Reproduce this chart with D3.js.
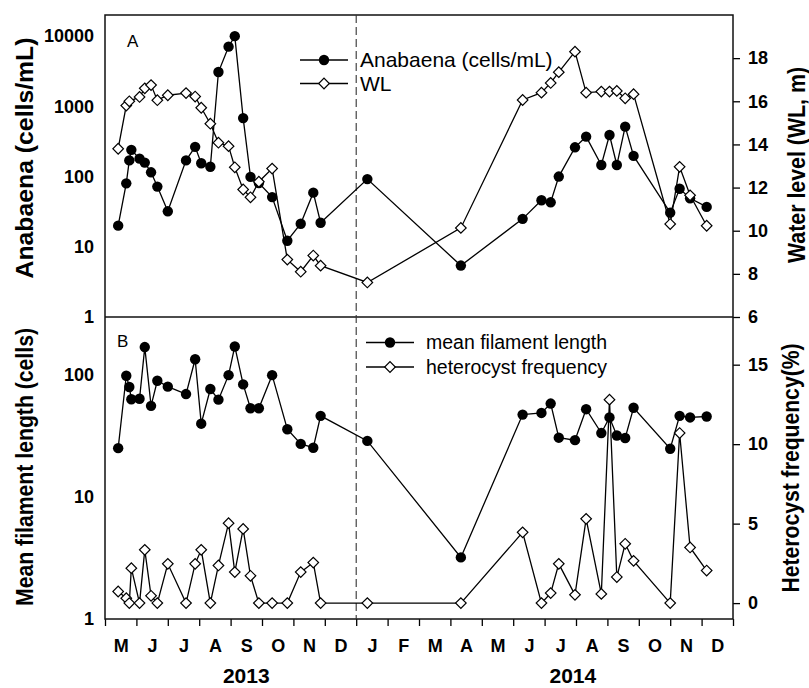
<!DOCTYPE html>
<html>
<head>
<meta charset="utf-8">
<script src="https://cdn.jsdelivr.net/npm/d3@7"></script>
<style>
    body { margin: 0; background: #fff; }
    svg { display: block; font-family: "Liberation Sans", Arial, sans-serif; }
    .tick text { font-weight: bold; font-size: 18px; fill: #000; }
</style>
</head>
<body>
<div id="chart-container"></div>
<script>

// sampling dates (shared by all four series)
const sampleDates = [
    '2013-05-14', '2013-05-22', '2013-05-25', '2013-05-27', '2013-06-04', '2013-06-09', '2013-06-15', '2013-06-21',
    '2013-07-01', '2013-07-19', '2013-07-28', '2013-08-03', '2013-08-12', '2013-08-20', '2013-08-30',
    '2013-09-05', '2013-09-13', '2013-09-20', '2013-09-28', '2013-10-11', '2013-10-26',
    '2013-11-08', '2013-11-20', '2013-11-27',
    '2014-01-12', '2014-04-11', '2014-06-10', '2014-06-28', '2014-07-07', '2014-07-15', '2014-07-31',
    '2014-08-11', '2014-08-26', '2014-09-03', '2014-09-10', '2014-09-18', '2014-09-26',
    '2014-11-01', '2014-11-10', '2014-11-20', '2014-12-06'
];

// panel A
const anabaena = [
    20, 80, 170, 240, 180, 158, 115, 72, 32, 170, 265, 155, 138, 3080, 7080,
    10000, 680, 99, 81, 51, 12.2, 21.3, 59, 22,
    92, 5.4, 25, 46, 43, 100, 261, 370, 146, 391, 146, 514, 197, 30.6, 67, 49, 37
];
const waterLevel = [
    13.8, 15.8, 16.0, null, 16.2, 16.6, 16.75, 16.05, 16.28, 16.38, 16.22, 15.7, 14.96, 14.08, 13.92,
    12.94, 11.91, 11.55, 12.27, 12.88, 8.66, 8.1, 8.85, 8.38,
    7.6, 10.13, 16.06, 16.4, 16.85, 17.35, 18.3, 16.4, 16.45, 16.45, 16.48, 16.14, 16.33, 10.31, 12.96, 11.64, 10.23
];

// panel B
const filamentLength = [
    25.2, 99, 80, 63.5, 64, 170, 56, 90, 80.5, 70, 135, 40, 77, 63, 100,
    172, 84, 53.5, 53.5, 100, 36, 27.3, 25.4, 46.4,
    28.9, 3.2, 47.5, 49, 58.5, 30.7, 29.3, 52.6, 33.5, 45, 32, 30.5, 54, 24.9, 46.4, 45, 45.8
];
const heterocyst = [
    0.73, 0.31, 0, 2.2, 0, 3.35, 0.46, 0, 2.47, 0, 2.47, 3.35, 0, 2.37, 5.03,
    1.95, 4.67, 1.72, 0, 0, 0, 1.95, 2.55, 0,
    0, 0, 4.45, 0, 0.63, 2.47, 0.52, 5.3, 0.58, 12.8, 1.64, 3.73, 2.66, 0, 10.7, 3.5, 2.05
];

const monthLabels = ['M', 'J', 'J', 'A', 'S', 'O', 'N', 'D', 'J', 'F', 'M', 'A', 'M', 'J', 'J', 'A', 'S', 'O', 'N', 'D'];
const yearLabels = ['2013', '2014'];

const anabaenaTicks = [1, 10, 100, 1000, 10000];
const wlTicks = [6, 8, 10, 12, 14, 16, 18];
const filamentTicks = [1, 10, 100];
const heterocystTicks = [0, 5, 10, 15];


// months since 1 May 2013, each month the same width
const monthPos = (s) => {
    const [y, m, d] = s.split('-').map(Number);
    const days = new Date(y, m, 0).getDate();
    return (y - 2013) * 12 + (m - 5) + (d - 1) / days;
};

const toPoints = (values) => values
    .map((v, i) => ({ m: monthPos(sampleDates[i]), v: v }))
    .filter(d => d.v !== null);

const W = 809, H = 688;
const plotLeft = 105, plotRight = 733, plotTop = 15, plotMid = 317, plotBottom = 619;

const svg = d3
    .select('#chart-container')
    .append('svg')
    .attr('width', W)
    .attr('height', H);

const xScale = d3
    .scaleLinear()
    .domain([0, 20])
    .range([plotLeft, plotRight]);

const yA = d3.scaleLog().domain([1, 20000]).range([plotMid, plotTop]);
const yWL = d3.scaleLinear().domain([6, 20]).range([plotMid, plotTop]);
const yB = d3.scaleLog().domain([1, 300]).range([plotBottom, plotMid]);
const yHet = d3.scaleLinear().domain([-1, 18]).range([plotBottom, plotMid]);

// left axes, no tick marks
const leftAxis = (scale, ticks) => d3.axisLeft(scale)
    .tickValues(ticks)
    .tickSize(0)
    .tickPadding(11)
    .tickFormat(d3.format('d'));

svg.append('g')
    .attr('transform', `translate(${plotLeft},0)`)
    .call(leftAxis(yA, anabaenaTicks));
svg.append('g')
    .attr('transform', `translate(${plotLeft},0)`)
    .call(leftAxis(yB, filamentTicks));

// right axes
svg.append('g')
    .attr('transform', `translate(${plotRight},0)`)
    .call(d3.axisRight(yWL).tickValues(wlTicks).tickSize(7).tickPadding(8));
svg.append('g')
    .attr('transform', `translate(${plotRight},0)`)
    .call(d3.axisRight(yHet).tickValues(heterocystTicks).tickSize(7).tickPadding(8));

// bottom axis: ticks at month boundaries, letters in between
svg.append('g')
    .attr('transform', `translate(0,${plotBottom})`)
    .call(d3.axisBottom(xScale).tickValues(d3.range(0, 21)).tickSize(7).tickFormat(''));
svg.append('g')
    .attr('transform', `translate(0,${plotBottom})`)
    .call(
        d3.axisBottom(xScale)
        .tickValues(d3.range(0.5, 20, 1))
        .tickSize(0)
        .tickPadding(20)
        .tickFormat((d, i) => monthLabels[i])
    );

svg.selectAll('.domain').remove();
svg.selectAll('.tick line').attr('stroke', '#000').attr('stroke-width', 1.3);

// year labels
svg.selectAll('.year')
    .data(yearLabels)
    .enter()
    .append('text')
    .attr('class', 'year')
    .attr('x', (d, i) => xScale(i === 0 ? 4.5 : 14.9))
    .attr('y', 683)
    .attr('text-anchor', 'middle')
    .style('font-weight', 'bold')
    .style('font-size', '21px')
    .text(d => d);

// frame
svg.append('rect')
    .attr('x', plotLeft)
    .attr('y', plotTop)
    .attr('width', plotRight - plotLeft)
    .attr('height', plotBottom - plotTop)
    .attr('fill', 'none')
    .attr('stroke', '#111')
    .attr('stroke-width', 1.5);
svg.append('line')
    .attr('x1', plotLeft).attr('x2', plotRight)
    .attr('y1', plotMid).attr('y2', plotMid)
    .attr('stroke', '#111')
    .attr('stroke-width', 1.5);

// year boundary
svg.append('line')
    .attr('x1', xScale(8)).attr('x2', xScale(8))
    .attr('y1', plotTop).attr('y2', plotBottom)
    .attr('stroke', '#333')
    .attr('stroke-width', 1.1)
    .attr('stroke-dasharray', '8,4');

const diamond = d3.symbol().type(d3.symbolSquare).size(56);

const drawSeries = (values, yScale, marker) => {
    const pts = toPoints(values);
    const line = d3
        .line()
        .x(d => xScale(d.m))
        .y(d => yScale(d.v));

    svg.append('path')
        .datum(pts)
        .attr('fill', 'none')
        .attr('stroke', '#000')
        .attr('stroke-width', 1.3)
        .attr('d', line);

    if (marker === 'circle') {
        svg.append('g')
            .selectAll('circle')
            .data(pts)
            .enter()
            .append('circle')
            .attr('cx', d => xScale(d.m))
            .attr('cy', d => yScale(d.v))
            .attr('r', 5.2)
            .attr('fill', '#000');
    } else {
        svg.append('g')
            .selectAll('path')
            .data(pts)
            .enter()
            .append('path')
            .attr('d', diamond)
            .attr('transform', d => `translate(${xScale(d.m)},${yScale(d.v)}) rotate(45)`)
            .attr('fill', '#fff')
            .attr('stroke', '#000')
            .attr('stroke-width', 1.2);
    }
};

drawSeries(anabaena, yA, 'circle');
drawSeries(waterLevel, yWL, 'diamond');
drawSeries(filamentLength, yB, 'circle');
drawSeries(heterocyst, yHet, 'diamond');

// panel letters
svg.append('text').attr('x', 127).attr('y', 47).style('font-size', '17px').text('A');
svg.append('text').attr('x', 117).attr('y', 347).style('font-size', '17px').text('B');

// legends
const legend = (items, x0, y0, gap, fontSize) => {
    items.forEach((item, i) => {
        const y = y0 + i * gap;
        svg.append('line')
            .attr('x1', x0).attr('x2', x0 + 48)
            .attr('y1', y).attr('y2', y)
            .attr('stroke', '#000')
            .attr('stroke-width', 1.3);
        if (item.marker === 'circle') {
            svg.append('circle')
                .attr('cx', x0 + 24).attr('cy', y)
                .attr('r', 5.2)
                .attr('fill', '#000');
        } else {
            svg.append('path')
                .attr('d', diamond)
                .attr('transform', `translate(${x0 + 24},${y}) rotate(45)`)
                .attr('fill', '#fff')
                .attr('stroke', '#000')
                .attr('stroke-width', 1.2);
        }
        svg.append('text')
            .attr('x', x0 + 60)
            .attr('y', y)
            .attr('dy', '0.34em')
            .style('font-size', fontSize + 'px')
            .text(item.label);
    });
};

legend([
    { label: 'Anabaena (cells/mL)', marker: 'circle' },
    { label: 'WL', marker: 'diamond' }
], 300, 60, 23.5, 21);

legend([
    { label: 'mean filament length', marker: 'circle' },
    { label: 'heterocyst frequency', marker: 'diamond' }
], 366, 342.5, 24.5, 19.5);

// axis titles
const titles = [
    { text: 'Anabaena (cells/mL)', x: 32.5, y: 158, len: 241 },
    { text: 'Water level (WL, m)', x: 805, y: 165, len: 196 },
    { text: 'Mean filament length (cells)', x: 32.5, y: 467, len: 278 },
    { text: 'Heterocyst frequency(%)', x: 799, y: 468, len: 249 }
];

svg.selectAll('.title')
    .data(titles)
    .enter()
    .append('text')
    .attr('class', 'title')
    .attr('transform', d => `translate(${d.x},${d.y}) rotate(-90)`)
    .attr('text-anchor', 'middle')
    .attr('textLength', d => d.len)
    .attr('lengthAdjust', 'spacingAndGlyphs')
    .style('font-weight', 'bold')
    .style('font-size', '23px')
    .text(d => d.text);

</script>
</body>
</html>
